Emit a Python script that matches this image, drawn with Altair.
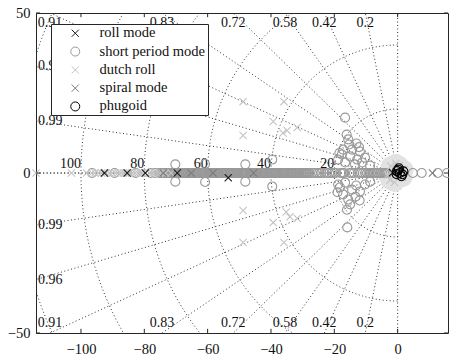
import altair as alt
import numpy as np
import pandas as pd

# ---------------- axes ----------------
x_min, x_max = -114.2, 15.9
y_min, y_max = -50.0, 50.0
x_ticks = [-100, -80, -60, -40, -20, 0]
y_ticks = [-50, 0, 50]

# ---------------- s-plane grid (damping ratios / natural frequencies) ----------------
zeta_values = [0.0, 0.2, 0.42, 0.58, 0.72, 0.83, 0.91, 0.96, 0.99, 1.0]
wn_values = [20, 40, 60, 80, 100, 120]

# ---------------- pole data ----------------
series_names = ["roll mode", "short period mode", "dutch roll", "spiral mode", "phugoid"]
series_colors = ["#1a1a1a", "#999999", "#c4c4c4", "#7a7a7a", "#000000"]
XPATH = "M-0.8,-0.8L0.8,0.8M-0.8,0.8L0.8,-0.8"
series_shapes = [XPATH, "circle", XPATH, XPATH, "circle"]

roll_re = [-92.6, -85.4, -79.7, -69.6, -53.5, -1.6]
roll_im = [0.0, 0.0, 0.0, 0.0, -1.5, 0.1]

short_axis_re = [-96.5, -89.4, -82.7, -78.0,
                 -75.2, -74.4, -73.9, -73.1, -72.3, -71.8, -71.0, -70.2, -69.5, -68.9,
                 -68.1, -67.4, -66.8, -66.0, -65.3, -64.7, -63.9, -63.2, -62.6, -61.8,
                 -61.1, -60.5, -59.7, -59.0, -58.4, -57.6, -56.9, -56.3, -55.5, -54.8,
                 -54.2, -53.4, -52.7, -52.1, -51.3, -50.6, -50.0, -49.2, -48.5, -47.9,
                 -47.1, -46.4, -45.8, -45.0, -44.3, -43.7, -42.9, -42.2, -41.6, -40.8,
                 -40.1, -39.5, -38.7, -38.0, -37.4, -36.6, -35.9, -35.3, -34.5, -33.8,
                 -33.2, -32.4, -31.7, -31.1, -30.3, -29.6, -29.0, -28.2,
                 -27.0, -25.4, -24.1, -22.3, -20.8, -19.5, -18.0, -16.9, -15.2, -13.8,
                 -12.5, -11.0, -9.6, -8.4, -7.3, -6.1, -4.9, -3.8,
                 4.8, 7.6, 12.7, 15.6]
short_axis_re2 = [-76.6, -74.8, -74.0, -73.5, -72.6, -72.0, -71.3, -70.6, -69.8, -69.2,
                  -68.4, -67.7, -67.1, -66.3, -65.6, -65.0, -64.2, -63.5, -62.9, -62.1,
                  -61.4, -60.8, -60.0, -59.3, -58.7, -57.9, -57.2, -56.6, -55.8, -55.1,
                  -54.5, -53.7, -53.0, -52.4, -51.6, -50.9, -50.3, -49.5, -48.8, -48.2,
                  -47.4, -46.7, -46.1, -45.3, -44.6, -44.0, -43.2, -42.5, -41.9, -41.1,
                  -40.4, -39.8, -39.0, -38.3, -37.7, -36.9, -36.2, -35.6, -34.8, -34.1,
                  -33.5, -32.7, -32.0, -31.4, -30.6, -29.9, -29.3, -28.6, -27.8,
                  -26.2, -24.8, -23.2, -21.6, -20.1, -17.4, -14.5, -11.7, -10.3,
                  -8.9, -7.8, -6.7, -5.5, -4.3, -3.2]
short_off_re = [-16.6, -15.6, -15.3, -17.2, -11.9, -17.6, -15.0, -10.3, -12.8, -16.6,
                -11.2, -18.8, -14.4, -13.5, -8.7, -16.1, -13.0, -18.4, -12.2,
                -15.9, -15.0, -15.6, -17.2, -11.9, -18.2, -14.4, -10.3, -16.6, -13.1,
                -8.7, -18.8, -16.0, -13.3, -19.0, -12.0,
                -39.6, -39.6, -48.1, -48.1, -60.8, -60.8, -70.2, -70.2]
short_off_im = [17.3, 10.5, 8.9, 7.3, 6.7, 5.8, 5.2, 4.8, 4.2, 3.3,
                3.3, 4.2, 7.3, 2.7, 2.3, 12.0, 9.2, 6.2, 8.1,
                -17.0, -9.8, -8.3, -6.7, -5.8, -4.5, -5.2, -3.6, -3.0, -3.9,
                -2.7, -3.6, -11.5, -7.4, -6.0, -8.6,
                4.2, -4.2, 2.7, -2.7, 2.8, -2.8, 2.7, -2.7]

dutch_axis_re = [-114.2, -103.0, -98.2, -96.6, -95.6, -94.5, -93.5, -92.2, -91.0, -90.1,
                 -89.2, -88.3, -87.4, -86.6, -85.9, -84.8, -83.8, -82.9, -82.0, -81.3,
                 -80.6, -79.5, -78.4, -77.6, -76.9, -76.0, -75.1, -74.2, -73.3, -71.6]
dutch_off_re = [-48.8, -35.9, -39.3, -34.9, -31.7, -48.8, -36.2,
                -48.8, -35.9, -39.3, -35.2, -31.7, -48.8, -34.0]
dutch_off_im = [22.3, 22.3, 16.1, 13.3, 14.2, 11.7, 12.5,
                -21.7, -21.7, -15.5, -12.2, -14.2, -11.7, -13.7]
dutch_origin_re = [-2.2, 0.5, -3.2, 1.6, -1.0, -0.8, 1.2, -2.4, -0.6, 2.0]
dutch_origin_im = [2.2, 2.3, -0.6, -1.4, -2.9, 0.2, 0.3, -2.2, 3.0, 1.0]

spiral_re = [-74.0, -65.2, -58.3, -45.5, -0.4, 11.0]
spiral_im = [0.0, 0.0, 0.0, 0.0, 0.4, 0.0]

phug_re = [0.2, 1.2, -0.3, 1.8, 0.7, 1.5, 0.4, -0.2]
phug_im = [1.0, -1.0, -0.4, 0.5, 0.0, -0.4, 1.5, 0.6]

# ---------------- build tables ----------------
def frame(name, re, im):
    return pd.DataFrame({"re": re, "im": im, "series": name})

pts = pd.concat([
    frame("short period mode", short_axis_re, [0.0] * len(short_axis_re)),
    frame("short period mode", short_axis_re2, [0.0] * len(short_axis_re2)),
    frame("short period mode", short_off_re, short_off_im),
    frame("dutch roll", dutch_axis_re, [0.0] * len(dutch_axis_re)),
    frame("dutch roll", dutch_off_re, dutch_off_im),
    frame("dutch roll", dutch_origin_re, dutch_origin_im),
    frame("spiral mode", spiral_re, spiral_im),
    frame("roll mode", roll_re, roll_im),
    frame("phugoid", phug_re, phug_im),
], ignore_index=True)
blob = pd.DataFrame({"re": dutch_origin_re, "im": dutch_origin_im})

# grid lines
R = 400.0
rows = []
gid = 0
for z in zeta_values:
    for s in (1, -1):
        rows.append({"re": 0.0, "im": 0.0, "id": gid, "k": 0})
        rows.append({"re": -z * R, "im": s * np.sqrt(1 - z * z) * R, "id": gid, "k": 1})
        gid += 1
for wn in wn_values:
    th = np.linspace(np.pi / 2, 3 * np.pi / 2, 181)
    for k, t in enumerate(th):
        rows.append({"re": wn * np.cos(t), "im": wn * np.sin(t), "id": gid, "k": k})
    gid += 1
grid = pd.DataFrame(rows)

# grid labels
top_rows, bot_rows, left_rows = [], [], []
for z in zeta_values[1:-1]:
    s = np.sqrt(1 - z * z)
    xt = -z * y_max / s
    if xt >= x_min:
        top_rows.append({"re": xt, "im": y_max, "t": f"{z:g}"})
        bot_rows.append({"re": xt, "im": y_min, "t": f"{z:g}"})
    else:
        yl = (-x_min) * s / z
        left_rows.append({"re": x_min, "im": yl, "t": f"{z:g}"})
        left_rows.append({"re": x_min, "im": -yl, "t": f"{z:g}"})
wn_rows = [{"re": -w, "im": 0.0, "t": str(w)} for w in wn_values if -w >= x_min]

FONT = "Liberation Serif"
xs = alt.Scale(domain=[x_min, x_max], nice=False, zero=False)
ys = alt.Scale(domain=[y_min, y_max], nice=False, zero=False)
X = alt.X("re:Q", scale=xs, title=None,
          axis=alt.Axis(values=x_ticks, ticks=False, domain=False, grid=False,
                        labelFont=FONT, labelFontSize=14.5, labelColor="#111111",
                        labelPadding=9, labelFlush=False))
Y = alt.Y("im:Q", scale=ys, title=None,
          axis=alt.Axis(values=y_ticks, ticks=False, domain=False, grid=False,
                        labelFont=FONT, labelFontSize=14.5, labelColor="#111111",
                        labelPadding=6, labelFlush=False))

grid_layer = alt.Chart(grid).mark_line(
    clip=True, strokeDash=[1, 2.5], color="#333333", strokeWidth=1
).encode(x=X, y=Y, detail="id:N", order="k:Q")

def text_layer(rows_, **kw):
    return alt.Chart(pd.DataFrame(rows_)).mark_text(
        font=FONT, fontSize=14, color="#111111", **kw
    ).encode(x=X, y=Y, text="t:N")

top_lbl = text_layer(top_rows, align="center", baseline="top", dy=3)
bot_lbl = text_layer(bot_rows, align="center", baseline="bottom", dy=-3)
left_lbl = text_layer(left_rows, align="left", baseline="middle", dx=2)
wn_lbl = text_layer(wn_rows, align="right", baseline="bottom", dy=-2)

blob_layer = alt.Chart(blob).mark_circle(
    size=380, color="#e2e2e2", opacity=1
).encode(x=X, y=Y)

legend = alt.Legend(
    title=None, orient="none", legendX=15, legendY=11,
    padding=2, rowPadding=3.3, symbolOffset=15, labelOffset=17,
    labelFont=FONT, labelFontSize=14.5, labelColor="#111111", labelLimit=300,
    strokeColor="#262626", fillColor="white", symbolStrokeWidth=1,
    symbolSize=81, cornerRadius=0,
)
point_layer = alt.Chart(pts).mark_point(
    filled=False, strokeWidth=1.1, opacity=1, size=81
).encode(
    x=X, y=Y,
    color=alt.Color("series:N", scale=alt.Scale(domain=series_names, range=series_colors),
                    legend=legend),
    shape=alt.Shape("series:N", scale=alt.Scale(domain=series_names, range=series_shapes),
                    legend=legend),
)

# inward tick marks on all four sides
tl = 1.3
tick_x = pd.DataFrame({"re": x_ticks * 2,
                       "im": [y_min] * len(x_ticks) + [y_max] * len(x_ticks),
                       "im2": [y_min + tl] * len(x_ticks) + [y_max - tl] * len(x_ticks)})
tick_y = pd.DataFrame({"im": y_ticks * 2,
                       "re": [x_min] * len(y_ticks) + [x_max] * len(y_ticks),
                       "re2": [x_min + tl] * len(y_ticks) + [x_max - tl] * len(y_ticks)})
tx = alt.Chart(tick_x).mark_rule(color="#262626", strokeWidth=1).encode(x=X, y=Y, y2="im2:Q")
ty = alt.Chart(tick_y).mark_rule(color="#262626", strokeWidth=1).encode(x=X, x2="re2:Q", y=Y)

chart = alt.layer(
    grid_layer, top_lbl, bot_lbl, left_lbl, wn_lbl, blob_layer, point_layer, tx, ty
).properties(
    width=412, height=320,
    autosize=alt.AutoSizeParams(type="none"),
    padding={"left": 36, "top": 13, "right": 1, "bottom": 27},
    background="white",
).configure_view(
    stroke="#262626", strokeWidth=1
).configure_axis(
    labelFont=FONT, labelFontSize=14.5
).configure_legend(
    labelFont=FONT
)

chart.save("out.html", embed_options={"renderer": "svg", "actions": False})
